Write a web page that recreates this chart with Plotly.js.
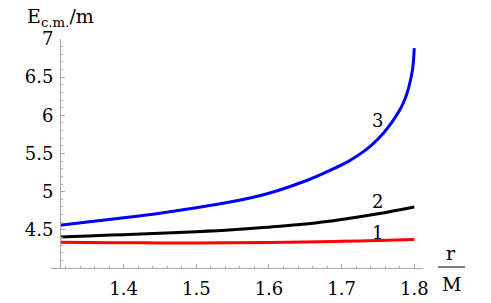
<!DOCTYPE html>
<html>
<head>
<meta charset="utf-8">
<script src="https://cdn.plot.ly/plotly-3.0.1.min.js"></script>
<style>html,body{margin:0;padding:0;background:#fff;}#chart{width:491px;height:303px;}</style>
</head>
<body>
<div id="chart"></div>
<script>
// Curves 1 (red) and 2 (black)
var r12 = [1.3125, 1.35, 1.4, 1.45, 1.5, 1.55, 1.6, 1.65, 1.7, 1.75, 1.8];
var curve1 = [4.338, 4.334, 4.331, 4.329, 4.329, 4.331, 4.335, 4.341, 4.350, 4.360, 4.372];
var curve2 = [4.405, 4.420, 4.437, 4.455, 4.475, 4.500, 4.535, 4.575, 4.635, 4.710, 4.800];
// Curve 3 (blue)
var r3 = [1.3125, 1.35, 1.4, 1.45, 1.5, 1.55, 1.6, 1.65, 1.675, 1.7, 1.71, 1.72, 1.73, 1.74, 1.75, 1.76, 1.77, 1.78, 1.785, 1.79, 1.795, 1.798, 1.8];
var curve3 = [4.560, 4.602, 4.657, 4.718, 4.790, 4.870, 4.980, 5.140, 5.240, 5.350, 5.400, 5.460, 5.525, 5.600, 5.690, 5.795, 5.920, 6.070, 6.165, 6.290, 6.470, 6.630, 6.880];
var xTicks = [1.4, 1.5, 1.6, 1.7, 1.8];
var xTickText = ["1.4", "1.5", "1.6", "1.7", "1.8"];
var yTicks = [4.5, 5, 5.5, 6, 6.5, 7];
var yTickText = ["4.5", "5", "5.5", "6", "6.5", "7"];
var curveLabels = ["1", "2", "3"];

var serif = "DejaVu Serif";
var axisCol = "#a8a8a8";

var traces = [
  {x: r12, y: curve1, mode: "lines", line: {color: "#ff0000", width: 3, shape: "spline"}},
  {x: r12, y: curve2, mode: "lines", line: {color: "#000000", width: 3, shape: "spline"}},
  {x: r3, y: curve3, mode: "lines", line: {color: "#0000ff", width: 3, shape: "spline", smoothing: 1}}
];

var layout = {
  width: 491, height: 303,
  margin: {l: 51, r: 68, t: 39, b: 35, pad: 0},
  paper_bgcolor: "#fff", plot_bgcolor: "#fff",
  showlegend: false,
  font: {family: serif, size: 18, color: "#000"},
  xaxis: {
    range: [1.3, 1.812], showgrid: false, zeroline: false,
    showline: true, linecolor: axisCol, linewidth: 1,
    ticks: "inside", ticklen: 4, tickcolor: axisCol, tickwidth: 1,
    tickvals: xTicks, ticktext: xTickText,
    tickfont: {family: serif, size: 18, color: "#000"},
    ticklabelstandoff: 4,
    minor: {dtick: 0.02, tick0: 1.3, ticks: "inside", ticklen: 2, tickcolor: axisCol, showgrid: false}
  },
  yaxis: {
    range: [4.0, 7.0], showgrid: false, zeroline: false,
    anchor: "free", position: 0.0244,
    showline: true, linecolor: axisCol, linewidth: 1,
    ticks: "inside", ticklen: 4, tickcolor: axisCol, tickwidth: 1,
    tickvals: yTicks, ticktext: yTickText,
    tickfont: {family: serif, size: 18, color: "#000"},
    ticklabelstandoff: 3,
    minor: {dtick: 0.1, tick0: 4.0, ticks: "inside", ticklen: 2, tickcolor: axisCol, showgrid: false}
  },
  annotations: [
    {xref: "paper", yref: "paper", x: (25 - 51) / 372, y: 1 + (39 - 17) / 229, xanchor: "left", yanchor: "middle",
     text: "E<sub>c.m.</sub>/m", showarrow: false, font: {family: serif, size: 19, color: "#000"}},
    {xref: "paper", yref: "paper", x: (451 - 51) / 372, y: (303 - 35 - 253) / 229, xanchor: "center", yanchor: "middle",
     text: "r", showarrow: false, font: {family: serif, size: 19, color: "#000"}},
    {xref: "paper", yref: "paper", x: (451 - 51) / 372, y: (303 - 35 - 284) / 229, xanchor: "center", yanchor: "middle",
     text: "M", showarrow: false, font: {family: serif, size: 19, color: "#000"}},
    {x: 1.75, y: 4.467, text: curveLabels[0], showarrow: false, font: {family: serif, size: 18, color: "#000"}},
    {x: 1.75, y: 4.873, text: curveLabels[1], showarrow: false, font: {family: serif, size: 18, color: "#000"}},
    {x: 1.75, y: 5.933, text: curveLabels[2], showarrow: false, font: {family: serif, size: 18, color: "#000"}}
  ],
  shapes: [
    {type: "line", xref: "paper", yref: "paper",
     x0: (438 - 51) / 372, x1: (465 - 51) / 372,
     y0: (303 - 35 - 267) / 229, y1: (303 - 35 - 267) / 229,
     line: {color: "#000", width: 1}}
  ]
};

Plotly.newPlot("chart", traces, layout, {displayModeBar: false, staticPlot: true});
</script>
</body>
</html>
